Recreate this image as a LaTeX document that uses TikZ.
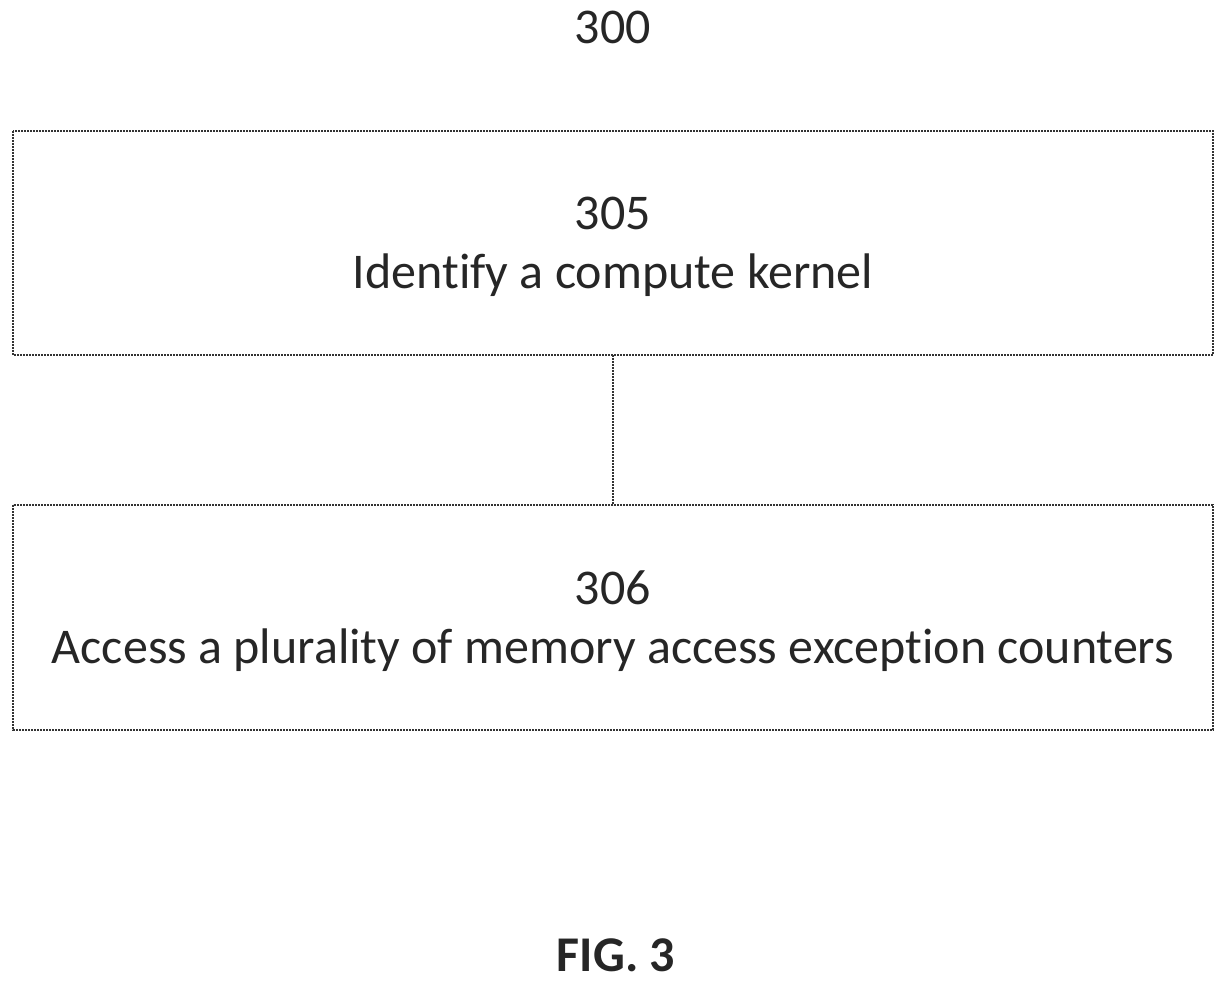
\documentclass[tikz,border=0pt]{standalone}
\usepackage{fontspec}
\setmainfont{Carlito}[Ligatures=NoCommon]
\begin{document}
\begin{tikzpicture}[x=1pt,y=-1pt,
  box/.style={draw=black!80,line width=1.3pt,dash pattern=on 2pt off 1pt},
  txt/.style={font=\fontsize{50}{60}\selectfont,text=black!85}]
\useasboundingbox (0,0) rectangle (1227,984);
\node[txt] (t300) at (613,27) {300};
\draw[box] (13,131) rectangle (1213,355);
\coordinate (b1) at (613,355);
\node[txt] (t305) at (613,213) {305};
\node[txt] (l305) at (613,275) {Identify a compute kernel};
\draw[box] (13,505) rectangle (1213,730);
\coordinate (b2) at (613,505);
\node[txt] (t306) at (613,588) {306};
\node[txt] (l306) at (613,650) {Access a plurality of memory access exception counters};
\draw[box] (b1) -- (b2);
\node[txt,font=\fontsize{50}{60}\selectfont\bfseries] (fig) at (616,955) {FIG. 3};
\end{tikzpicture}
\end{document}
